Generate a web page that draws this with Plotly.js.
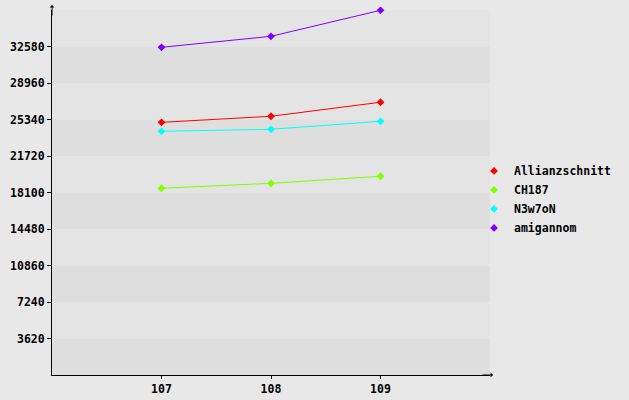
<!DOCTYPE html>
<html><head><meta charset="utf-8">
<script src="https://cdn.plot.ly/plotly-3.0.1.min.js"></script>
<style>html,body{margin:0;padding:0;background:#e8e8e8;}#chart{width:629px;height:400px;}</style>
</head><body><div id="chart"></div>
<script>
const categories = [107, 108, 109];
const seriesNames = ["Allianzschnitt", "CH187", "N3w7oN", "amigannom"];
const allianzschnitt = [25060, 25660, 27050];
const ch187 = [18520, 19010, 19710];
const n3w7on = [24170, 24370, 25160];
const amigannom = [32500, 33590, 36170];
const yTicks = [3620, 7240, 10860, 14480, 18100, 21720, 25340, 28960, 32580];
const seriesColors = ["#ff0000", "#80ff00", "#00ffff", "#8000ff"];

const seriesValues = [allianzschnitt, ch187, n3w7on, amigannom];
const step = yTicks[1] - yTicks[0];
const yMax = yTicks[yTicks.length - 1] + step;

const traces = [];
seriesValues.forEach((vals, i) => {
  traces.push({
    x: categories, y: vals, type: 'scatter', mode: 'lines+markers',
    name: seriesNames[i], showlegend: false, cliponaxis: false,
    line: {color: seriesColors[i], width: 1},
    marker: {color: seriesColors[i], symbol: 'diamond', size: 6}
  });
});
seriesValues.forEach((vals, i) => {
  traces.push({
    x: [null], y: [null], type: 'scatter', mode: 'markers',
    name: seriesNames[i], showlegend: true,
    marker: {color: seriesColors[i], symbol: 'diamond', size: 6}
  });
});

const shapes = [];
for (let i = 0; i * step < yMax; i++) {
  shapes.push({type: 'rect', xref: 'paper', yref: 'y', x0: 0, x1: 1,
    y0: i * step, y1: (i + 1) * step, layer: 'below', line: {width: 0},
    fillcolor: i % 2 === 0 ? '#dedede' : '#e4e4e4'});
}

const font = {family: 'DejaVu Sans Mono, monospace', size: 11.5, color: '#000000', weight: 'bold'};

const layout = {
  width: 629, height: 400,
  margin: {l: 52, r: 139, t: 10, b: 25, pad: 0, autoexpand: false},
  paper_bgcolor: '#e8e8e8', plot_bgcolor: '#e8e8e8',
  font: font,
  showlegend: true,
  legend: {x: 0.9635, xanchor: 'left', y: 0.481, yanchor: 'middle',
    bgcolor: 'rgba(0,0,0,0)', borderwidth: 0, font: font, tracegroupgap: 0},
  xaxis: {range: [106, 110], tickvals: categories, ticktext: categories.map(String),
    showgrid: false, zeroline: false, showline: true, linecolor: '#000', linewidth: 1,
    ticks: 'outside', ticklen: 3, tickcolor: '#000', tickfont: font, fixedrange: true},
  yaxis: {range: [0, yMax], tickvals: yTicks, ticktext: yTicks.map(String),
    showgrid: false, zeroline: false, showline: true, linecolor: '#000', linewidth: 1,
    ticks: 'outside', ticklen: 4, tickcolor: '#000', tickfont: font, fixedrange: true},
  shapes: shapes,
  annotations: [
    {xref: 'paper', yref: 'paper', x: 0, y: 1 + 5 / 365, ax: 0, ay: 12, text: '',
     showarrow: true, arrowhead: 1, arrowsize: 0.8, arrowwidth: 1, arrowcolor: '#000'},
    {xref: 'paper', yref: 'paper', x: 1 + 3 / 438, y: 0, ax: -12, ay: 0, text: '',
     showarrow: true, arrowhead: 1, arrowsize: 0.8, arrowwidth: 1, arrowcolor: '#000'}
  ]
};

Plotly.newPlot('chart', traces, layout, {displayModeBar: false, staticPlot: true});
</script></body></html>
